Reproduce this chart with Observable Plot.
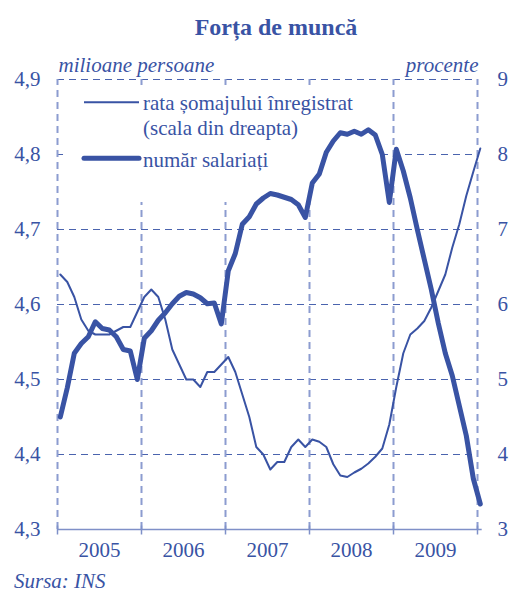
<!DOCTYPE html>
<html>
<head>
<meta charset="utf-8">
<script src="https://cdn.jsdelivr.net/npm/d3@7"></script>
<script src="https://cdn.jsdelivr.net/npm/@observablehq/plot@0.6"></script>
<style>
  html, body { margin: 0; padding: 0; background: #fff; }
  #wrap { width: 510px; height: 592px; position: relative; font-family: "Liberation Serif", "Times New Roman", serif; color: #3953a4; }
  #title { height: 46px; box-sizing: border-box; padding-top: 15px; padding-left: 42px; text-align: center; font-weight: bold; font-size: 24px; line-height: 24px; }
  #caption { height: 26px; box-sizing: border-box; padding-top: 5px; padding-left: 14px; font-style: italic; font-size: 21px; line-height: 21px; }
  svg { display: block; }
</style>
</head>
<body>
<div id="wrap">
  <div id="title">Forța de muncă</div>
  <div id="chart"></div>
  <div id="caption">Sursa: INS</div>
</div>
<script>
// ---- data (monthly, Jan 2005 – Jan 2010) ----
const years = ["2005", "2006", "2007", "2008", "2009"];
const leftTicks = [4.3, 4.4, 4.5, 4.6, 4.7, 4.8, 4.9];
const rightTicks = [3, 4, 5, 6, 7, 8, 9];
const seriesNames = ["rata șomajului înregistrat", "(scala din dreapta)", "număr salariați"];

// număr salariați (milioane persoane, left scale)
const employees = [
  4.450, 4.489, 4.535, 4.548, 4.557, 4.577, 4.568, 4.566, 4.557, 4.540, 4.538, 4.500,
  4.555, 4.565, 4.579, 4.589, 4.601, 4.611, 4.616, 4.614, 4.609, 4.601, 4.602, 4.574,
  4.645, 4.668, 4.707, 4.717, 4.734, 4.742, 4.748, 4.746, 4.743, 4.740, 4.733, 4.716,
  4.762, 4.774, 4.803, 4.818, 4.829, 4.827, 4.831, 4.827, 4.833, 4.826, 4.800, 4.736,
  4.807, 4.778, 4.742, 4.700, 4.660, 4.620, 4.575, 4.535, 4.505, 4.465, 4.425, 4.368,
  4.334
];

// rata șomajului înregistrat (procente, right scale)
const unemployment = [
  6.40, 6.30, 6.10, 5.80, 5.65, 5.60, 5.60, 5.60, 5.65, 5.70, 5.70, 5.90,
  6.10, 6.20, 6.10, 5.80, 5.40, 5.20, 5.00, 5.00, 4.90, 5.10, 5.10, 5.20,
  5.30, 5.10, 4.80, 4.50, 4.10, 4.00, 3.80, 3.90, 3.90, 4.10, 4.20, 4.10,
  4.20, 4.17, 4.10, 3.87, 3.72, 3.70, 3.76, 3.81, 3.88, 3.97, 4.08, 4.40,
  4.90, 5.35, 5.60, 5.68, 5.78, 5.96, 6.18, 6.40, 6.76, 7.07, 7.45, 7.77,
  8.08
];

// ---- helpers ----
const BLUE = "#3953a4";
const toLeft = u => 4.3 + (u - 3) / 10;          // right scale → left scale
const monthX = (d, i) => i + 0.4;                // month position (12 units per year)
const yearBounds = d3.range(0, years.length * 12 + 1, 12);
const fmtLeft = d => d.toFixed(1).replace(".", ",");

// legend box (white, hides the gridlines behind the legend)
const legendBox = [{ x1: 0.86, x2: 46.3, y1: 4.736, y2: 4.889 }];

function legendMark() {
  const g = d3.create("svg:g");
  g.append("line").attr("x1", 84).attr("x2", 139).attr("y1", 56.3).attr("y2", 56.3)
    .attr("stroke", BLUE).attr("stroke-width", 2);
  g.append("line").attr("x1", 84).attr("x2", 139).attr("y1", 112.3).attr("y2", 112.3)
    .attr("stroke", BLUE).attr("stroke-width", 5).attr("stroke-linecap", "round");
  const t = g.append("g").attr("fill", BLUE).attr("font-size", 21).attr("text-anchor", "start")
    .attr("font-family", "Liberation Serif, Times New Roman, serif");
  t.append("text").attr("x", 143).attr("y", 64).text(seriesNames[0]);
  t.append("text").attr("x", 143).attr("y", 88.5).text(seriesNames[1]);
  t.append("text").attr("x", 143).attr("y", 121).text(seriesNames[2]);
  return g.node();
}

const chart = Plot.plot({
  width: 510,
  height: 520,
  marginLeft: 57,
  marginRight: 33,
  marginTop: 33,
  marginBottom: 37,
  x: { domain: [0, 60], axis: null },
  y: { domain: [4.3, 4.9], axis: null },
  style: { fontFamily: "Liberation Serif, Times New Roman, serif", fontSize: "21px", color: BLUE, background: "white", overflow: "visible" },
  marks: [
    // horizontal dashed gridlines
    Plot.ruleY(leftTicks.slice(1), { stroke: "#4a63ae", strokeWidth: 1, strokeDasharray: "7,5" }),
    // vertical dashed gridlines at year boundaries
    Plot.ruleX(yearBounds, { y1: 4.3, y2: 4.9, stroke: "#8c9cd0", strokeWidth: 2, strokeDasharray: "7,5" }),
    Plot.rect(legendBox, { x1: "x1", x2: "x2", y1: "y1", y2: "y2", fill: "white" }),
    legendMark,
    // bottom axis line and ticks
    Plot.ruleY([4.3], { x1: 0, x2: 60.67, stroke: "#7f90c8", strokeWidth: 1.5 }),
    Plot.ruleX(yearBounds, { y1: 4.3, y2: 4.3, insetTop: -3.5, insetBottom: -5.5, stroke: "#7f90c8", strokeWidth: 1.5 }),
    // left axis
    Plot.axisY({ anchor: "left", ticks: leftTicks, tickSize: 0, tickPadding: 17, tickFormat: fmtLeft, label: null, fontSize: 21, fill: BLUE }),
    // right axis (procente)
    Plot.axisY({ anchor: "right", ticks: rightTicks.map(toLeft), tickSize: 0, tickPadding: 20,
      tickFormat: (d, i) => String(rightTicks[i]), label: null, fontSize: 21, fill: BLUE }),
    // year labels
    Plot.text(years, { x: (d, i) => i * 12 + 6, text: d => d, frameAnchor: "bottom", dy: 27, fill: BLUE, fontSize: 21 }),
    // unit labels
    Plot.text(["milioane persoane"], { frameAnchor: "top-left", textAnchor: "start", dx: 1, dy: -22.5, fontStyle: "italic", fill: BLUE, fontSize: 21 }),
    Plot.text(["procente"], { frameAnchor: "top-right", textAnchor: "end", dx: 1, dy: -22.5, fontStyle: "italic", fill: BLUE, fontSize: 21 }),
    // series
    Plot.line(unemployment, { x: monthX, y: d => toLeft(d), stroke: BLUE, strokeWidth: 2, strokeLinejoin: "round" }),
    Plot.line(employees, { x: monthX, y: d => d, stroke: BLUE, strokeWidth: 5, strokeLinejoin: "round", strokeLinecap: "round" })
  ]
});
document.getElementById("chart").appendChild(chart);
</script>
</body>
</html>
